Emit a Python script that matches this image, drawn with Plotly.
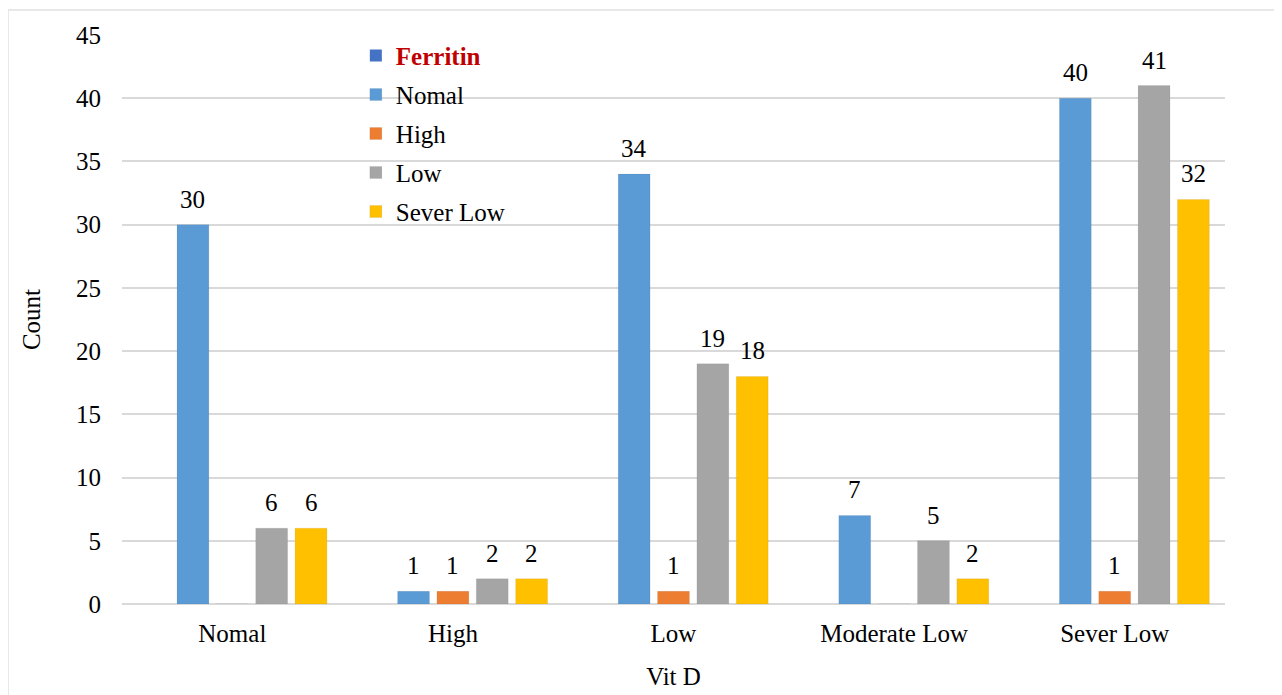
import plotly.graph_objects as go

categories = ["Nomal", "High", "Low", "Moderate Low", "Sever Low"]
series_names = ["Nomal", "High", "Low", "Sever Low"]
vals_nomal = [30, 1, 34, 7, 40]
vals_high = [0, 1, 1, 0, 1]
vals_low = [6, 2, 19, 5, 41]
vals_sever = [6, 2, 18, 2, 32]
y_ticks = [0, 5, 10, 15, 20, 25, 30, 35, 40, 45]

series_values = [vals_nomal, vals_high, vals_low, vals_sever]
colors = ["#5B9BD5", "#ED7D31", "#A5A5A5", "#FFC000"]
FONT = "Liberation Serif, Times New Roman, serif"
FS = 25

fig = go.Figure()
# Legend header entry "Ferritin" (empty series, occupies first slot as in the original)
fig.add_trace(go.Bar(
    x=categories, y=[0] * len(categories), name="<span style='color:#C00000'><b>Ferritin</b></span>",
    marker=dict(color="#4472C4", line=dict(width=0)), legendgroup="g0", hoverinfo="skip",
))
for i, (nm, vals, col) in enumerate(zip(series_names, series_values, colors)):
    fig.add_trace(go.Bar(
        x=categories, y=vals, name=nm, legendgroup=f"g{i+1}",
        marker=dict(color=col, line=dict(width=1, color="rgba(0,0,0,0.06)")),
    ))

# data labels above bars
slot = 39.4
annotations = []
for i, vals in enumerate(series_values):
    off = (i + 1 - 2) * slot
    for c, v in zip(categories, vals):
        if v:
            annotations.append(dict(
                x=c, y=v, xref="x", yref="y", text=str(v), showarrow=False,
                xshift=off, yshift=10, yanchor="bottom",
                font=dict(family=FONT, size=FS, color="#000000"),
            ))

# page body has an 8px margin: the figure starts at (8, 8) on screen
fig.update_layout(
    width=1274, height=687,
    margin=dict(l=114, r=57, t=27, b=91),
    paper_bgcolor="white", plot_bgcolor="white",
    barmode="group", bargap=0.108, bargroupgap=0.19,
    font=dict(family=FONT, size=FS, color="#000000"),
    showlegend=True,
    legend=dict(
        x=0.212, y=1.004, xanchor="left", yanchor="top",
        bgcolor="rgba(0,0,0,0)", traceorder="grouped", tracegroupgap=3.5,
        font=dict(family=FONT, size=FS, color="#000000"), itemwidth=30,
    ),
    annotations=annotations,
    shapes=[dict(type="rect", xref="paper", yref="paper",
                 x0=(8 - 122) / 1103, x1=(1300 - 122) / 1103,
                 y0=-0.3, y1=(604 - 10) / 569,
                 line=dict(color="#E8E8E8", width=2), layer="below")],
)
fig.update_xaxes(
    title=dict(text="Vit D", font=dict(family=FONT, size=FS), standoff=21),
    showgrid=False, showline=False, ticks="", ticklabelstandoff=12,
    tickfont=dict(family=FONT, size=FS), automargin=False,
)
fig.update_yaxes(
    title=dict(text="Count", font=dict(family=FONT, size=FS), standoff=28),
    range=[0, 45], tickvals=y_ticks, showgrid=True, gridcolor="#D9D9D9", gridwidth=2,
    zeroline=True, zerolinecolor="#D9D9D9", zerolinewidth=2,
    showline=False, ticks="", ticklabelstandoff=20,
    tickfont=dict(family=FONT, size=FS), automargin=False,
)

fig.write_html("out.html")
